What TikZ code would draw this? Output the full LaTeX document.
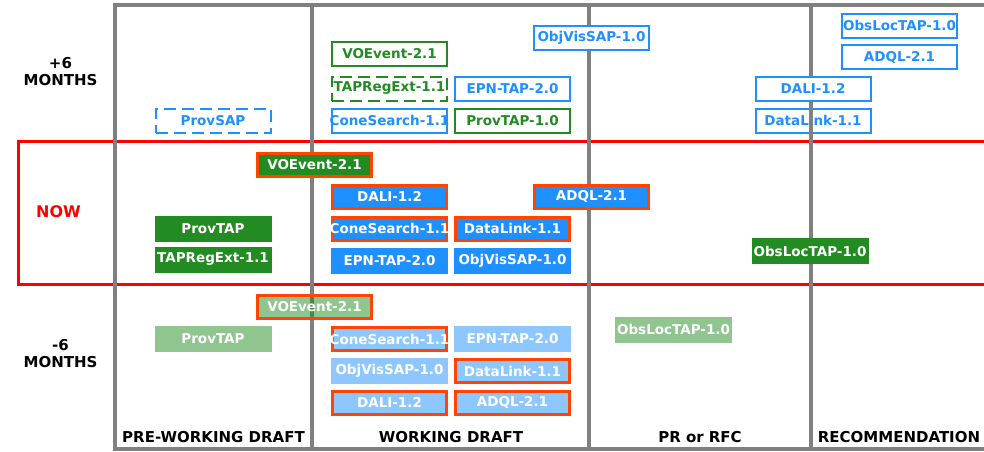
\documentclass[tikz,border=0pt]{standalone}
\usepackage{fontspec}
\setmainfont{DejaVu Sans}
\definecolor{dblue}{HTML}{1E90FF}
\definecolor{fgreen}{HTML}{228B22}
\definecolor{ored}{HTML}{FF4500}
\definecolor{gline}{HTML}{808080}
\newcommand\fitlbl[1]{\makebox[100pt]{#1}}
\begin{document}
\begin{tikzpicture}[x=1pt,y=-1pt,
  box/.style={rectangle,inner sep=0pt,font=\bfseries\fontsize{13.5}{15}\selectfont},
  ob/.style={box,minimum width=115pt,minimum height=24pt,line width=2pt},
  fb/.style={box,minimum width=117pt,minimum height=26pt,text=white},
  hb/.style={box,minimum width=114pt,minimum height=23pt,line width=3pt,draw=ored,text=white},
  blueo/.style={ob,draw=dblue,fill=white,text=dblue},
  greeno/.style={ob,draw=fgreen,fill=white,text=fgreen},
  dashpat/.style={dash pattern=on 12pt off 6pt},
  bluef/.style={fb,fill=dblue},
  greenf/.style={fb,fill=fgreen},
  bluel/.style={fb,fill=dblue,fill opacity=0.5,text opacity=1},
  greenl/.style={fb,fill=fgreen,fill opacity=0.5,text opacity=1},
  blueh/.style={hb,fill=dblue},
  greenh/.style={hb,fill=fgreen},
  bluelh/.style={hb,fill=dblue!50!white},
  rowlab/.style={align=center,font=\bfseries\fontsize{15}{17}\selectfont},
  collab/.style={font=\bfseries\fontsize{15}{17}\selectfont},
  grid/.style={draw=gline,line width=4pt}
]
\useasboundingbox (0,0) rectangle (984,451);
% box drawn beneath the grid lines
\node[ob,draw=dblue,text=dblue] (p6dlink) at (813,120.5) {DataLink-1.1};
% frame
\draw[red,line width=3pt] (18,141) rectangle (1000,284);
\coordinate (tl) at (115,5);
\coordinate (tr) at (1000,5);
\coordinate (bl) at (115,449);
\coordinate (br) at (1000,449);
\coordinate (t1) at (312,5);
\coordinate (b1) at (312,449);
\coordinate (t2) at (589,5);
\coordinate (b2) at (589,449);
\coordinate (t3) at (811,5);
\coordinate (b3) at (811,449);
\draw[grid] (tr) -- (tl) -- (bl) -- (br);
\draw[grid] (t1) -- (b1);
\draw[grid] (t2) -- (b2);
\draw[grid] (t3) -- (b3);
% +6 months
\node[blueo,dashpat] (p6provsap) at (213,120.5) {ProvSAP};
\node[greeno] (p6voe) at (389.5,54) {VOEvent-2.1};
\node[greeno,dashpat] (p6tapreg) at (389.5,88.5) {\fitlbl{TAPRegExt-1.1}};
\node[blueo] (p6epn) at (512.5,88.5) {EPN-TAP-2.0};
\node[blueo] (p6cone) at (389.5,120.5) {\fitlbl{ConeSearch-1.1}};
\node[greeno] (p6provtap) at (512.5,120.5) {ProvTAP-1.0};
\node[blueo] (p6objvis) at (591.5,37.5) {ObjVisSAP-1.0};
\node[blueo] (p6obsloc) at (899.5,25.5) {ObsLocTAP-1.0};
\node[blueo] (p6adql) at (899.5,57) {ADQL-2.1};
\node[blueo] (p6dali) at (813,88.5) {DALI-1.2};
% now
\node[greenh] (nvoe) at (314.5,165) {VOEvent-2.1};
\node[blueh] (ndali) at (389.5,196.5) {DALI-1.2};
\node[blueh] (nadql) at (591.5,196.5) {ADQL-2.1};
\node[blueh] (ncone) at (389.5,228.5) {\fitlbl{ConeSearch-1.1}};
\node[blueh] (ndlink) at (512.5,228.5) {DataLink-1.1};
\node[bluef] (nepn) at (389.5,260.5) {EPN-TAP-2.0};
\node[bluef] (nobjvis) at (512.5,260.5) {ObjVisSAP-1.0};
\node[greenf] (nprovtap) at (213,228.5) {ProvTAP};
\node[greenf] (ntapreg) at (213,259.5) {TAPRegExt-1.1};
\node[greenf] (nobsloc) at (810,251) {ObsLocTAP-1.0};
% -6 months
\node[hb,fill=fgreen,fill opacity=0.5,text opacity=1,draw opacity=1] (m6voe) at (314.5,307) {VOEvent-2.1};
\node[greenl] (m6provtap) at (213,339) {ProvTAP};
\node[hb,fill=dblue,fill opacity=0.5,text opacity=1,draw opacity=1] (m6cone) at (389.5,339) {\fitlbl{ConeSearch-1.1}};
\node[bluel] (m6epn) at (512.5,339) {EPN-TAP-2.0};
\node[bluel] (m6objvis) at (389.5,371) {ObjVisSAP-1.0};
\node[bluelh] (m6dlink) at (512.5,371) {DataLink-1.1};
\node[bluelh] (m6dali) at (389.5,402.5) {DALI-1.2};
\node[bluelh] (m6adql) at (512.5,402.5) {ADQL-2.1};
\node[greenl] (m6obsloc) at (673.5,329.5) {ObsLocTAP-1.0};
% row labels
\node[rowlab] (lp6) at (60.5,71.5) {+6\\MONTHS};
\node[rowlab,text=red,font=\bfseries\fontsize{16}{18}\selectfont] (lnow) at (58.5,212) {NOW};
\node[rowlab] (lm6) at (60.5,353.5) {-6\\MONTHS};
% column labels
\node[collab] (c1) at (213.5,437) {PRE-WORKING DRAFT};
\node[collab] (c2) at (451,437) {WORKING DRAFT};
\node[collab] (c3) at (700,437) {PR or RFC};
\node[collab] (c4) at (899,437) {RECOMMENDATION};
\end{tikzpicture}
\end{document}
